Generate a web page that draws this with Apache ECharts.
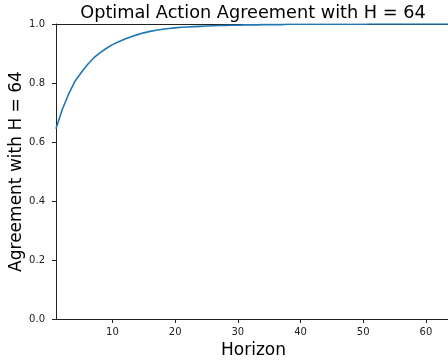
<!DOCTYPE html>
<html>
<head>
<meta charset="utf-8">
<script src="https://cdn.jsdelivr.net/npm/echarts@6/dist/echarts.min.js"></script>
<style>html,body{margin:0;padding:0;background:#fff}#c{width:448px;height:360px}</style>
</head>
<body>
<div id="c"></div>
<script>
var titleText = "Optimal Action Agreement with H = 64";
var xName = "Horizon";
var yName = "Agreement with H = 64";
var horizons = [];
for (var i = 1; i <= 64; i++) horizons.push(i);
var agreement = [
  0.645, 0.71, 0.762, 0.805, 0.835, 0.862, 0.885, 0.902, 0.917, 0.93,
  0.94, 0.949, 0.957, 0.964, 0.970, 0.975, 0.979, 0.982, 0.985, 0.987,
  0.989, 0.990, 0.991, 0.992, 0.993, 0.994, 0.995, 0.995, 0.996, 0.996,
  0.997, 0.997, 0.997, 0.998, 0.998, 0.998, 0.998, 0.999, 0.999, 0.999,
  0.999, 0.999, 0.999, 0.999, 0.999, 0.999, 0.999, 0.999, 0.999, 0.999,
  1.0, 1.0, 1.0, 1.0, 1.0, 1.0, 1.0, 1.0, 1.0, 1.0,
  1.0, 1.0, 1.0, 1.0
];
var xTicks = [10, 20, 30, 40, 50, 60];
var yTicks = [0, 0.2, 0.4, 0.6, 0.8, 1.0];

var font = "DejaVu Sans";
var chart = echarts.init(document.getElementById('c'), null, {renderer: 'canvas'});
var data = horizons.map(function (h, i) { return [h, agreement[i]]; });
chart.setOption({
  animation: false,
  backgroundColor: '#fff',
  title: {
    text: titleText, left: 253, top: 4, textAlign: 'center', padding: 0,
    textStyle: {fontFamily: font, fontSize: 17.7, fontWeight: 'normal', color: '#000'}
  },
  grid: {left: 56, top: 24, right: -3, bottom: 41, containLabel: false, outerBoundsMode: 'none'},
  xAxis: [{
    type: 'value', min: 1, max: 64,
    name: xName, nameLocation: 'middle', nameGap: 23, nameMoveOverlap: false,
    nameTextStyle: {fontFamily: font, fontSize: 17, color: '#000'},
    axisLine: {show: true, lineStyle: {color: '#222', width: 1}},
    axisTick: {show: true, inside: false, length: 4, customValues: xTicks, lineStyle: {color: '#222'}},
    axisLabel: {customValues: xTicks, fontFamily: font, fontSize: 10, color: '#222', margin: 8},
    splitLine: {show: false}
  }, {
    type: 'value', min: 1, max: 64, position: 'top',
    axisLine: {show: true, lineStyle: {color: '#222', width: 1}},
    axisTick: {show: false}, axisLabel: {show: false}, splitLine: {show: false}
  }],
  yAxis: [{
    type: 'value', min: 0, max: 1, interval: 0.2,
    name: yName, nameLocation: 'middle', nameGap: 31, nameRotate: 90, nameMoveOverlap: false,
    nameTextStyle: {fontFamily: font, fontSize: 17, color: '#000'},
    axisLine: {show: true, lineStyle: {color: '#222', width: 1}},
    axisTick: {show: true, inside: false, length: 4, lineStyle: {color: '#222'}},
    axisLabel: {fontFamily: font, fontSize: 10, color: '#222', margin: 11,
      formatter: function (v) { return v.toFixed(1); }},
    splitLine: {show: false}
  }],
  series: [{
    type: 'line', data: data, showSymbol: false, smooth: false,
    lineStyle: {color: '#1f77b4', width: 1.6}, clip: true
  }]
});
</script>
</body>
</html>
